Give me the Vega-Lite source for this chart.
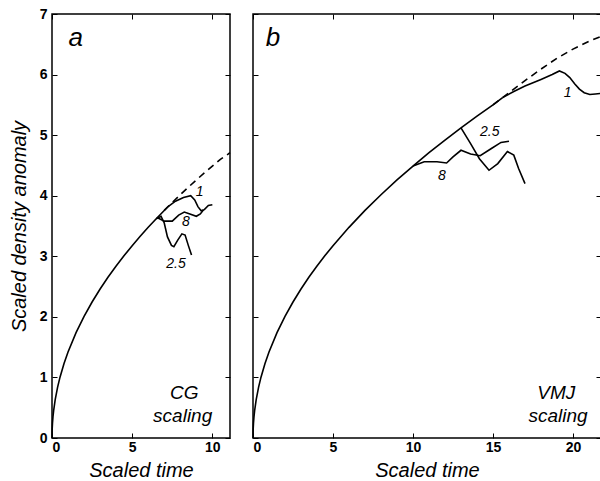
{
  "$schema": "https://vega.github.io/schema/vega-lite/v6.json",
  "padding": {"left": 8, "top": 6, "right": 0, "bottom": 0},
  "background": "white",
  "config": {
    "font": "Liberation Sans",
    "view": {"stroke": "#000", "strokeWidth": 1.5},
    "axis": {
      "domain": false, "grid": false,
      "tickColor": "#000", "tickSize": -5, "tickWidth": 1,
      "labelFont": "Liberation Sans", "labelFontSize": 14, "labelFontWeight": "bold", "labelColor": "#000",
      "titleFont": "Liberation Sans", "titleFontSize": 20, "titleFontStyle": "italic", "titleFontWeight": "normal", "titleColor": "#000"
    },
    "line": {"color": "#000", "strokeWidth": 1.6},
    "text": {"font": "Liberation Sans", "fontStyle": "italic", "color": "#000"}
  },
  "spacing": 15,
  "datasets": {
    "a": [
      {"s": "main", "t": 0, "y": 0}, {"s": "main", "t": 0.01, "y": 0.142}, {"s": "main", "t": 0.03, "y": 0.246}, {"s": "main", "t": 0.06, "y": 0.348},
      {"s": "main", "t": 0.1, "y": 0.449}, {"s": "main", "t": 0.2, "y": 0.635}, {"s": "main", "t": 0.35, "y": 0.84}, {"s": "main", "t": 0.5, "y": 1.004},
      {"s": "main", "t": 0.75, "y": 1.23}, {"s": "main", "t": 1, "y": 1.42}, {"s": "main", "t": 1.5, "y": 1.739}, {"s": "main", "t": 2, "y": 2.008},
      {"s": "main", "t": 2.5, "y": 2.245}, {"s": "main", "t": 3, "y": 2.46}, {"s": "main", "t": 3.5, "y": 2.657}, {"s": "main", "t": 4, "y": 2.84},
      {"s": "main", "t": 4.5, "y": 3.012}, {"s": "main", "t": 5, "y": 3.175}, {"s": "main", "t": 5.5, "y": 3.33}, {"s": "main", "t": 6, "y": 3.478},
      {"s": "main", "t": 6.5, "y": 3.62}, {"s": "main", "t": 7, "y": 3.757}, {"s": "main", "t": 7.2, "y": 3.81},
      {"s": "1", "t": 7.2, "y": 3.81}, {"s": "1", "t": 7.7, "y": 3.91}, {"s": "1", "t": 8.2, "y": 3.97}, {"s": "1", "t": 8.65, "y": 4.0},
      {"s": "1", "t": 8.9, "y": 3.93}, {"s": "1", "t": 9.1, "y": 3.82}, {"s": "1", "t": 9.3, "y": 3.75}, {"s": "1", "t": 9.5, "y": 3.77},
      {"s": "1", "t": 9.75, "y": 3.84}, {"s": "1", "t": 10.0, "y": 3.85},
      {"s": "8", "t": 6.55, "y": 3.64}, {"s": "8", "t": 7.0, "y": 3.58}, {"s": "8", "t": 7.5, "y": 3.58}, {"s": "8", "t": 7.9, "y": 3.68},
      {"s": "8", "t": 8.25, "y": 3.73}, {"s": "8", "t": 8.6, "y": 3.7}, {"s": "8", "t": 9.0, "y": 3.66}, {"s": "8", "t": 9.25, "y": 3.7}, {"s": "8", "t": 9.45, "y": 3.77},
      {"s": "2.5", "t": 6.5, "y": 3.62}, {"s": "2.5", "t": 6.8, "y": 3.66}, {"s": "2.5", "t": 7.0, "y": 3.55}, {"s": "2.5", "t": 7.2, "y": 3.32},
      {"s": "2.5", "t": 7.45, "y": 3.18}, {"s": "2.5", "t": 7.6, "y": 3.16}, {"s": "2.5", "t": 7.85, "y": 3.27}, {"s": "2.5", "t": 8.1, "y": 3.37},
      {"s": "2.5", "t": 8.3, "y": 3.35}, {"s": "2.5", "t": 8.5, "y": 3.18}, {"s": "2.5", "t": 8.7, "y": 3.02}
    ],
    "aDash": [
      {"t": 7, "y": 3.757}, {"t": 7.5, "y": 3.889}, {"t": 8, "y": 4.016}, {"t": 8.5, "y": 4.14}, {"t": 9, "y": 4.26},
      {"t": 9.5, "y": 4.377}, {"t": 10, "y": 4.49}, {"t": 10.5, "y": 4.6}, {"t": 11, "y": 4.69}, {"t": 11.1, "y": 4.71}
    ],
    "aLab": [
      {"txt": "1", "t": 9.2, "y": 4.06, "size": 14},
      {"txt": "8", "t": 8.35, "y": 3.56, "size": 14},
      {"txt": "2.5", "t": 7.73, "y": 2.88, "size": 14},
      {"txt": "CG", "t": 8.25, "y": 0.74, "size": 19},
      {"txt": "scaling", "t": 8.15, "y": 0.36, "size": 19},
      {"txt": "a", "t": 1.48, "y": 6.6, "size": 26}
    ],
    "b": [
      {"s": "main", "t": 0, "y": 0}, {"s": "main", "t": 0.01, "y": 0.142}, {"s": "main", "t": 0.03, "y": 0.246}, {"s": "main", "t": 0.06, "y": 0.348},
      {"s": "main", "t": 0.1, "y": 0.449}, {"s": "main", "t": 0.2, "y": 0.635}, {"s": "main", "t": 0.35, "y": 0.84}, {"s": "main", "t": 0.5, "y": 1.004},
      {"s": "main", "t": 0.75, "y": 1.23}, {"s": "main", "t": 1, "y": 1.42}, {"s": "main", "t": 1.5, "y": 1.739}, {"s": "main", "t": 2, "y": 2.008},
      {"s": "main", "t": 2.5, "y": 2.245}, {"s": "main", "t": 3, "y": 2.46}, {"s": "main", "t": 3.5, "y": 2.657}, {"s": "main", "t": 4, "y": 2.84},
      {"s": "main", "t": 4.5, "y": 3.012}, {"s": "main", "t": 5, "y": 3.175}, {"s": "main", "t": 6, "y": 3.478}, {"s": "main", "t": 7, "y": 3.757},
      {"s": "main", "t": 8, "y": 4.016}, {"s": "main", "t": 9, "y": 4.26}, {"s": "main", "t": 10, "y": 4.49}, {"s": "main", "t": 11, "y": 4.71},
      {"s": "main", "t": 12, "y": 4.919}, {"s": "main", "t": 13, "y": 5.12}, {"s": "main", "t": 14, "y": 5.313}, {"s": "main", "t": 15, "y": 5.5},
      {"s": "main", "t": 15.6, "y": 5.62},
      {"s": "1", "t": 15.6, "y": 5.62}, {"s": "1", "t": 16.3, "y": 5.72}, {"s": "1", "t": 17, "y": 5.81}, {"s": "1", "t": 18, "y": 5.92}, {"s": "1", "t": 18.7, "y": 6.0},
      {"s": "1", "t": 19.15, "y": 6.06}, {"s": "1", "t": 19.5, "y": 6.02}, {"s": "1", "t": 19.8, "y": 5.95}, {"s": "1", "t": 20.1, "y": 5.85},
      {"s": "1", "t": 20.4, "y": 5.76}, {"s": "1", "t": 20.7, "y": 5.7}, {"s": "1", "t": 21.05, "y": 5.67}, {"s": "1", "t": 21.4, "y": 5.68},
      {"s": "1", "t": 21.75, "y": 5.69},
      {"s": "8", "t": 10, "y": 4.49}, {"s": "8", "t": 10.7, "y": 4.56}, {"s": "8", "t": 11.5, "y": 4.56}, {"s": "8", "t": 12.1, "y": 4.54},
      {"s": "8", "t": 12.5, "y": 4.64}, {"s": "8", "t": 13.0, "y": 4.75}, {"s": "8", "t": 13.6, "y": 4.69}, {"s": "8", "t": 14.2, "y": 4.66},
      {"s": "8", "t": 14.9, "y": 4.78}, {"s": "8", "t": 15.5, "y": 4.88}, {"s": "8", "t": 16.0, "y": 4.9},
      {"s": "2.5", "t": 13.0, "y": 5.12}, {"s": "2.5", "t": 13.6, "y": 4.86}, {"s": "2.5", "t": 14.15, "y": 4.61}, {"s": "2.5", "t": 14.75, "y": 4.42},
      {"s": "2.5", "t": 15.3, "y": 4.53}, {"s": "2.5", "t": 15.9, "y": 4.73}, {"s": "2.5", "t": 16.3, "y": 4.67}, {"s": "2.5", "t": 16.6, "y": 4.45},
      {"s": "2.5", "t": 17.0, "y": 4.2}
    ],
    "bDash": [
      {"t": 15, "y": 5.5}, {"t": 16, "y": 5.7}, {"t": 17, "y": 5.9}, {"t": 18, "y": 6.09}, {"t": 19, "y": 6.27},
      {"t": 20, "y": 6.42}, {"t": 21, "y": 6.55}, {"t": 21.75, "y": 6.63}
    ],
    "bLab": [
      {"txt": "1", "t": 19.66, "y": 5.7, "size": 14},
      {"txt": "2.5", "t": 14.8, "y": 5.05, "size": 14},
      {"txt": "8", "t": 11.8, "y": 4.33, "size": 14},
      {"txt": "VMJ", "t": 18.96, "y": 0.74, "size": 19},
      {"txt": "scaling", "t": 19.06, "y": 0.36, "size": 19},
      {"txt": "b", "t": 1.25, "y": 6.6, "size": 26}
    ]
  },
  "hconcat": [
    {
      "width": 178, "height": 424,
      "resolve": {"axis": {"x": "independent", "y": "independent"}},
      "layer": [
        {
          "data": {"name": "a"},
          "mark": {"type": "line"},
          "encoding": {
            "x": {"field": "t", "type": "quantitative", "scale": {"domain": [0, 11.1], "nice": false, "zero": false},
                  "axis": {"orient": "bottom", "values": [0, 5, 10], "title": "Scaled time", "labelPadding": 7, "titlePadding": 6}},
            "y": {"field": "y", "type": "quantitative", "scale": {"domain": [0, 7], "nice": false},
                  "axis": {"orient": "left", "values": [0, 1, 2, 3, 4, 5, 6, 7], "title": "Scaled density anomaly", "labelPadding": 10, "titlePadding": 10}},
            "detail": {"field": "s"}
          }
        },
        {
          "data": {"name": "aDash"},
          "mark": {"type": "line", "strokeDash": [7, 5]},
          "encoding": {
            "x": {"field": "t", "type": "quantitative", "axis": {"orient": "top", "values": [0, 5, 10], "labels": false, "title": null}},
            "y": {"field": "y", "type": "quantitative", "axis": {"orient": "right", "values": [0, 1, 2, 3, 4, 5, 6, 7], "labels": false, "title": null}}
          }
        },
        {
          "data": {"name": "aLab"},
          "mark": {"type": "text", "align": "center", "baseline": "middle"},
          "encoding": {
            "x": {"field": "t", "type": "quantitative", "axis": null},
            "y": {"field": "y", "type": "quantitative", "axis": null},
            "text": {"field": "txt"},
            "size": {"field": "size", "type": "quantitative", "scale": null}
          }
        }
      ]
    },
    {
      "width": 348, "height": 424,
      "resolve": {"axis": {"x": "independent", "y": "independent"}},
      "layer": [
        {
          "data": {"name": "b"},
          "mark": {"type": "line"},
          "encoding": {
            "x": {"field": "t", "type": "quantitative", "scale": {"domain": [0, 21.75], "nice": false, "zero": false},
                  "axis": {"orient": "bottom", "values": [0, 5, 10, 15, 20], "title": "Scaled time", "labelPadding": 7, "titlePadding": 6}},
            "y": {"field": "y", "type": "quantitative", "scale": {"domain": [0, 7], "nice": false},
                  "axis": {"orient": "left", "values": [0, 1, 2, 3, 4, 5, 6, 7], "labels": false, "title": null}},
            "detail": {"field": "s"}
          }
        },
        {
          "data": {"name": "bDash"},
          "mark": {"type": "line", "strokeDash": [7, 5]},
          "encoding": {
            "x": {"field": "t", "type": "quantitative", "axis": {"orient": "top", "values": [0, 5, 10, 15, 20], "labels": false, "title": null}},
            "y": {"field": "y", "type": "quantitative", "axis": {"orient": "right", "values": [0, 1, 2, 3, 4, 5, 6, 7], "labels": false, "title": null}}
          }
        },
        {
          "data": {"name": "bLab"},
          "mark": {"type": "text", "align": "center", "baseline": "middle"},
          "encoding": {
            "x": {"field": "t", "type": "quantitative", "axis": null},
            "y": {"field": "y", "type": "quantitative", "axis": null},
            "text": {"field": "txt"},
            "size": {"field": "size", "type": "quantitative", "scale": null}
          }
        }
      ]
    }
  ]
}
